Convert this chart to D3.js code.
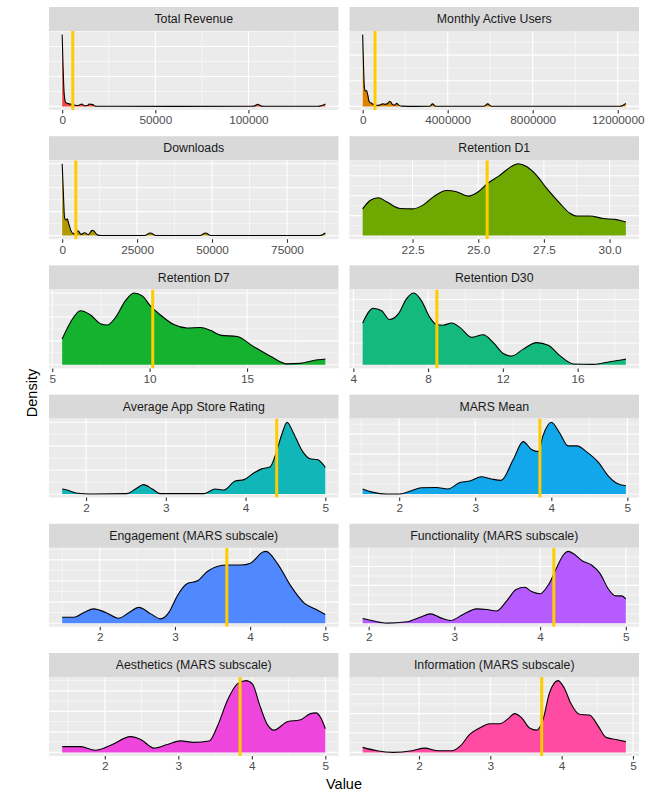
<!DOCTYPE html>
<html><head><meta charset="utf-8">
<script src="https://cdn.jsdelivr.net/npm/d3@7"></script>
<style>body{margin:0;background:#fff}svg text{font-family:"Liberation Sans",Arial,Helvetica,sans-serif}</style>
</head><body><svg id="chart" width="666" height="799"></svg>
<script>
// ---------- DATA ----------
const panelNames = ["Total Revenue","Monthly Active Users","Downloads","Retention D1","Retention D7","Retention D30",
  "Average App Store Rating","MARS Mean","Engagement (MARS subscale)","Functionality (MARS subscale)",
  "Aesthetics (MARS subscale)","Information (MARS subscale)"];
const fillColors = ["#F04A3E","#DB8200","#B09A00","#6FA800","#14B22E","#14B97D",
  "#10B6B8","#12A6EA","#4F88FF","#B65CFF","#EE46DD","#FF4CA2"];
const meanValues = [5700, 580000, 4560, 25.34, 10.16, 8.47, 4.39, 3.85, 3.69, 4.16, 3.84, 3.72];
const xTickLabels = [
  ["0","50000","100000"],
  ["0","4000000","8000000","12000000"],
  ["0","25000","50000","75000"],
  ["22.5","25.0","27.5","30.0"],
  ["5","10","15"],
  ["4","8","12","16"],
  ["2","3","4","5"],["2","3","4","5"],["2","3","4","5"],["2","3","4","5"],["2","3","4","5"],["2","3","4","5"]
];
// density curves: [value, density] (density units arbitrary, y axis unlabeled)
const densTotalRevenue = [[0,2.4],[500,1.3],[1000,0.5],[1500,0.2],[2000,0.12],[3000,0.1],[4000,0.08],[5000,0.07],[6000,0.05],[7000,0.04],[8000,0.03],[9000,0.04],[10500,0.08],[12000,0.02],[13500,0.03],[14500,0.08],[15500,0.07],[16500,0.06],[17500,0.015],[20000,0.005],[30000,0.003],[60000,0.002],[100000,0.003],[103000,0.01],[105000,0.07],[107000,0.01],[110000,0.003],[137000,0.003],[139500,0.03],[141300,0.08]];
const densMAU = [[0,2.8],[40000,1.6],[80000,0.75],[120000,0.6],[180000,0.62],[240000,0.45],[300000,0.2],[360000,0.15],[420000,0.12],[500000,0.08],[600000,0.05],[700000,0.04],[800000,0.05],[950000,0.1],[1050000,0.08],[1150000,0.1],[1280000,0.2],[1400000,0.08],[1500000,0.05],[1600000,0.12],[1700000,0.05],[1850000,0.01],[2500000,0.003],[3150000,0.005],[3290000,0.1],[3430000,0.005],[5700000,0.005],[5880000,0.1],[6060000,0.005],[12100000,0.005],[12250000,0.05],[12380000,0.11]];
const densDownloads = [[0,3],[400,1.8],[800,0.75],[1300,0.65],[1700,0.7],[2200,0.5],[2800,0.25],[3500,0.1],[4300,0.08],[5300,0.2],[6300,0.05],[7500,0.12],[8700,0.04],[10000,0.22],[10500,0.2],[11700,0.03],[13000,0.005],[27500,0.003],[29400,0.11],[31300,0.003],[46000,0.003],[47800,0.11],[49600,0.003],[86000,0.003],[87000,0.05],[87800,0.11]];
const densRetD1 = [[20.6,0.067],[20.88,0.088],[21.19,0.095],[21.51,0.085],[22.02,0.068],[22.5,0.067],[22.91,0.077],[23.29,0.097],[23.8,0.113],[24.17,0.11],[24.62,0.099],[25.0,0.11],[25.34,0.13],[25.82,0.151],[26.21,0.171],[26.52,0.18],[26.84,0.173],[27.22,0.151],[27.6,0.119],[28.11,0.081],[28.49,0.056],[28.75,0.049],[29.25,0.049],[29.76,0.043],[30.27,0.04],[30.62,0.034]];
const densRetD7 = [[5.51,0.054],[5.94,0.089],[6.45,0.113],[6.97,0.104],[7.48,0.086],[7.82,0.083],[8.25,0.099],[8.76,0.134],[9.19,0.15],[9.62,0.144],[10.04,0.123],[10.56,0.104],[11.24,0.084],[11.92,0.077],[12.61,0.078],[13.12,0.072],[13.63,0.062],[14.49,0.059],[15.34,0.038],[16.2,0.018],[17.05,0.002],[17.74,0.003],[18.42,0.009],[19.02,0.012]];
const densRetD30 = [[4.5,0.096],[5.07,0.13],[5.52,0.124],[5.93,0.104],[6.41,0.117],[6.85,0.152],[7.24,0.165],[7.65,0.147],[8.09,0.109],[8.47,0.092],[8.8,0.091],[9.26,0.096],[9.7,0.086],[10.33,0.063],[10.95,0.069],[11.49,0.051],[12.02,0.026],[12.47,0.02],[13.09,0.036],[13.8,0.051],[14.43,0.045],[15.05,0.021],[15.77,0.002],[16.83,0.001],[17.72,0.007],[18.58,0.013]];
const densRating = [[1.7,0.105],[1.76,0.083],[1.89,0.015],[2.05,0.001],[2.51,0.008],[2.62,0.105],[2.72,0.195],[2.83,0.105],[2.93,0.008],[3.48,0.008],[3.62,0.105],[3.73,0.083],[3.87,0.27],[3.98,0.3],[4.1,0.435],[4.2,0.525],[4.31,0.57],[4.37,0.795],[4.46,1.275],[4.52,1.5],[4.6,1.275],[4.71,0.9],[4.81,0.735],[4.9,0.72],[5.0,0.555]];
const densMarsMean = [[1.52,0.126],[1.66,0.041],[1.83,0.002],[2.01,0.002],[2.16,0.083],[2.29,0.158],[2.49,0.162],[2.64,0.126],[2.8,0.288],[2.93,0.324],[3.08,0.432],[3.21,0.378],[3.34,0.342],[3.5,0.864],[3.63,1.314],[3.74,1.116],[3.83,1.062],[3.89,1.458],[4.0,1.8],[4.11,1.53],[4.22,1.206],[4.34,1.206],[4.46,1.062],[4.62,0.792],[4.75,0.45],[4.86,0.27],[4.98,0.207]];
const densEngagement = [[1.5,0.141],[1.66,0.141],[1.79,0.255],[1.92,0.34],[2.08,0.255],[2.25,0.119],[2.39,0.255],[2.52,0.374],[2.68,0.221],[2.81,0.102],[2.92,0.255],[3.03,0.646],[3.16,0.935],[3.3,1.003],[3.43,1.224],[3.56,1.343],[3.7,1.377],[3.88,1.377],[4.01,1.428],[4.17,1.683],[4.21,1.7],[4.37,1.394],[4.54,0.884],[4.72,0.476],[4.86,0.34],[5.0,0.204]];
const densFunctionality = [[1.93,0.124],[2.06,0.057],[2.21,0.002],[2.45,0.038],[2.6,0.158],[2.72,0.247],[2.84,0.141],[2.95,0.07],[3.1,0.228],[3.26,0.38],[3.38,0.361],[3.49,0.323],[3.61,0.589],[3.72,0.893],[3.82,0.95],[3.9,0.836],[4.0,0.779],[4.1,1.026],[4.2,1.501],[4.27,1.805],[4.33,1.9],[4.41,1.805],[4.49,1.653],[4.6,1.539],[4.7,1.311],[4.8,0.893],[4.88,0.722],[4.95,0.722],[5.0,0.646]];
const densAesthetics = [[1.42,0.14],[1.67,0.14],[1.87,0.053],[2.08,0.175],[2.35,0.385],[2.49,0.315],[2.67,0.105],[2.85,0.193],[3.03,0.28],[3.21,0.245],[3.42,0.28],[3.53,0.63],[3.67,1.278],[3.8,1.663],[3.92,1.75],[4.01,1.663],[4.1,1.19],[4.21,0.683],[4.3,0.543],[4.49,0.753],[4.65,0.788],[4.8,0.945],[4.87,0.963],[4.94,0.84],[5.0,0.578]];
const densInformation = [[1.21,0.13],[1.41,0.043],[1.64,0.002],[1.9,0.043],[2.08,0.111],[2.27,0.043],[2.46,0.043],[2.58,0.167],[2.71,0.463],[2.85,0.629],[2.99,0.74],[3.13,0.74],[3.25,0.87],[3.34,0.999],[3.44,0.888],[3.55,0.629],[3.65,0.574],[3.74,0.851],[3.83,1.536],[3.95,1.85],[4.04,1.647],[4.13,1.258],[4.25,0.981],[4.39,0.962],[4.51,0.685],[4.62,0.389],[4.76,0.333],[4.9,0.278]];
const densities = [densTotalRevenue, densMAU, densDownloads, densRetD1, densRetD7, densRetD30,
  densRating, densMarsMean, densEngagement, densFunctionality, densAesthetics, densInformation];

// ---------- LAYOUT ----------
const svg = d3.select("#chart");
const colX = [49, 349.5], colW = 289.5;
const rowTop0 = 7, rowStep = 129.2, stripH = 24, panelH = 79;

const expand = (lo, hi) => { const r = hi - lo; return [lo - 0.05 * r, hi + 0.05 * r]; };

panelNames.forEach((name, i) => {
  const col = i % 2, row = Math.floor(i / 2);
  const gx = colX[col], gy = rowTop0 + row * rowStep;
  const data = densities[i];
  const x = d3.scaleLinear().domain(expand(d3.min(data, d => d[0]), d3.max(data, d => d[0]))).range([0, colW]);
  const yMax = d3.max(data, d => d[1]);
  const y = d3.scaleLinear().domain([-0.05 * yMax, 1.05 * yMax]).range([panelH, 0]);

  const g = svg.append("g").attr("transform", `translate(${gx},${gy})`);
  g.append("rect").attr("width", colW).attr("height", stripH).attr("fill", "#D9D9D9");
  g.append("text").attr("x", colW / 2).attr("y", stripH / 2 + 4.3).attr("text-anchor", "middle")
    .attr("font-size", "12.3px").attr("fill", "#1A1A1A").text(name);

  const p = g.append("g").attr("transform", `translate(0,${stripH})`);
  const clipId = "clip" + i;
  p.append("clipPath").attr("id", clipId).append("rect").attr("width", colW).attr("height", panelH);
  p.append("rect").attr("width", colW).attr("height", panelH).attr("fill", "#EBEBEB");

  // gridlines
  const xt = xTickLabels[i].map(Number);
  const xs = xt[1] - xt[0];
  const xMinor = xt.map(t => t - xs / 2).concat([xt[xt.length - 1] + xs / 2])
    .filter(v => v >= x.domain()[0] && v <= x.domain()[1]);
  const yt = y.ticks(3);
  const ys = yt[1] - yt[0];
  const yMinor = yt.map(t => t - ys / 2).concat([yt[yt.length - 1] + ys / 2])
    .filter(v => v >= y.domain()[0] && v <= y.domain()[1]);
  const grid = p.append("g");
  grid.selectAll(".ymin").data(yMinor).join("line").attr("x1", 0).attr("x2", colW)
    .attr("y1", d => y(d)).attr("y2", d => y(d)).attr("stroke", "#fff").attr("stroke-width", 0.55);
  grid.selectAll(".xmin").data(xMinor).join("line").attr("y1", 0).attr("y2", panelH)
    .attr("x1", d => x(d)).attr("x2", d => x(d)).attr("stroke", "#fff").attr("stroke-width", 0.55);
  grid.selectAll(".ymaj").data(yt.filter(v => v >= y.domain()[0] && v <= y.domain()[1])).join("line")
    .attr("x1", 0).attr("x2", colW).attr("y1", d => y(d)).attr("y2", d => y(d)).attr("stroke", "#fff").attr("stroke-width", 1.1);
  grid.selectAll(".xmaj").data(xt).join("line").attr("y1", 0).attr("y2", panelH)
    .attr("x1", d => x(d)).attr("x2", d => x(d)).attr("stroke", "#fff").attr("stroke-width", 1.1);

  const cg = p.append("g").attr("clip-path", `url(#${clipId})`);
  const area = d3.area().x(d => x(d[0])).y0(y(0)).y1(d => y(d[1])).curve(d3.curveMonotoneX);
  const line = d3.line().x(d => x(d[0])).y(d => y(d[1])).curve(d3.curveMonotoneX);
  cg.append("path").datum(data).attr("d", area).attr("fill", fillColors[i]);
  cg.append("path").datum(data).attr("d", line).attr("fill", "none").attr("stroke", "#000").attr("stroke-width", 1.1);
  cg.append("line").attr("x1", x(meanValues[i])).attr("x2", x(meanValues[i])).attr("y1", 0).attr("y2", panelH)
    .attr("stroke", "#FFCC00").attr("stroke-width", 3);

  // x axis
  const ax = p.append("g").attr("transform", `translate(0,${panelH})`)
    .call(d3.axisBottom(x).tickValues(xt).tickFormat((d, k) => xTickLabels[i][k]).tickSize(3.5).tickPadding(2.5));
  ax.select(".domain").remove();
  ax.selectAll(".tick line").attr("stroke", "#333333").attr("stroke-width", 1.1);
  ax.selectAll(".tick text").attr("fill", "#4D4D4D").attr("font-size", "11.8px")
    .style("font-family", '"Liberation Sans",Arial,sans-serif');
});

// axis titles
svg.append("text").attr("x", 344).attr("y", 789).attr("text-anchor", "middle")
  .attr("font-size", "14.5px").attr("fill", "#000").text("Value");
svg.append("text").attr("transform", "translate(37,393) rotate(-90)").attr("text-anchor", "middle")
  .attr("font-size", "14.5px").attr("fill", "#000").text("Density");
</script></body></html>
